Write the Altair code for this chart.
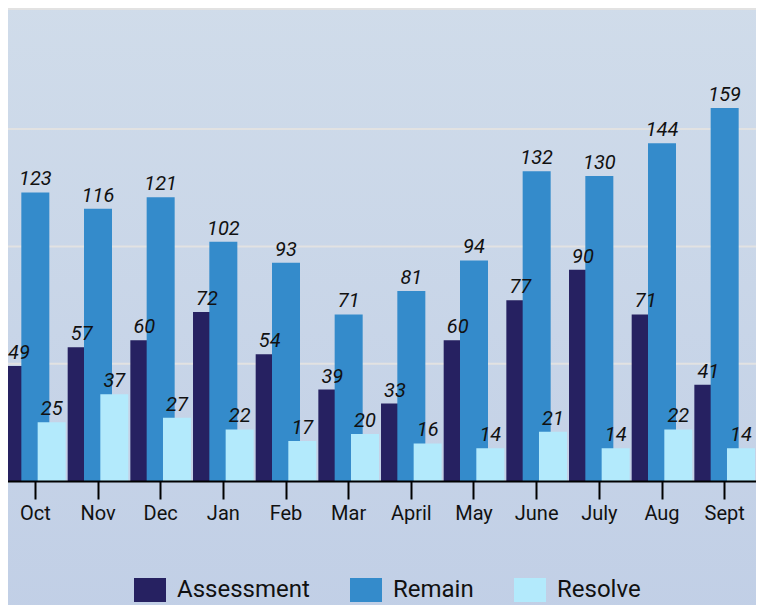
import altair as alt
import pandas as pd

months = ["Oct", "Nov", "Dec", "Jan", "Feb", "Mar", "April", "May", "June", "July", "Aug", "Sept"]
series = ["Assessment", "Remain", "Resolve"]
assessment = [49, 57, 60, 72, 54, 39, 33, 60, 77, 90, 71, 41]
remain = [123, 116, 121, 102, 93, 71, 81, 94, 132, 130, 144, 159]
resolve = [25, 37, 27, 22, 17, 20, 16, 14, 21, 14, 22, 14]
colors = ["#262161", "#348bcb", "#b3eafc"]
grid_values = [50, 100, 150, 201.2]

rows = []
for s, vals in zip(series, [assessment, remain, resolve]):
    for m, v in zip(months, vals):
        rows.append({"month": m, "series": s, "value": v})
df = pd.DataFrame(rows)

W, H = 752, 472
ymax = 201.2

bg = alt.Chart(alt.Data(values=[{"a": 1}])).mark_rect(
    fill=alt.Gradient(
        gradient="linear",
        stops=[alt.GradientStop(color="#d0dcea", offset=0),
               alt.GradientStop(color="#c1cfe6", offset=1)],
        x1=0, x2=0, y1=0, y2=1,
    )
).encode(
    x=alt.value(-10), x2=alt.value(W + 20),
    y=alt.value(-12), y2=alt.value(H + 140),
)

grid = alt.Chart(pd.DataFrame({"v": grid_values})).mark_rule(
    color="#e2e2e2", strokeWidth=2
).encode(
    y=alt.Y("v:Q", scale=alt.Scale(domain=[0, ymax], nice=False, zero=True), axis=None)
)

xenc = alt.X(
    "month:N", sort=months,
    scale=alt.Scale(paddingInner=0, paddingOuter=0),
    axis=alt.Axis(
        title=None, labelAngle=0, domainColor="#000", domainWidth=2,
        tickColor="#000", tickWidth=2, tickSize=18,
        labelFont="Roboto", labelFontSize=20, labelColor="#111",
        labelPadding=4, zindex=1,
    ),
)
xoff = alt.XOffset("series:N", sort=series, scale=alt.Scale(paddingInner=0, paddingOuter=0.42))
yenc = alt.Y("value:Q", scale=alt.Scale(domain=[0, ymax], nice=False), axis=None)

bars = alt.Chart(df).mark_bar(width=28).encode(
    x=xenc,
    xOffset=xoff,
    y=yenc,
    color=alt.Color(
        "series:N", sort=series,
        scale=alt.Scale(domain=series, range=colors),
        legend=alt.Legend(
            title=None, orient="none", legendX=130, legendY=565,
            direction="horizontal",
            symbolType="M-1,-0.75H1V0.75H-1Z", symbolSize=1024,
            symbolStrokeWidth=0, symbolOpacity=1,
            labelFont="Roboto", labelFontSize=24, labelColor="#111",
            labelOffset=11, columnPadding=40, padding=0,
        ),
    ),
)

labels = alt.Chart(df).mark_text(
    font="Roboto", fontSize=20, fontStyle="italic", color="#111",
    baseline="alphabetic", dy=-7,
).encode(
    x=alt.X("month:N", sort=months),
    xOffset=alt.XOffset("series:N", sort=series),
    y=alt.Y("value:Q"),
    text=alt.Text("value:Q"),
)

chart = alt.layer(bg, grid, bars, labels).properties(
    width=W, height=H,
    autosize=alt.AutoSizeParams(type="none"),
    padding={"left": -4, "top": 1, "right": 0, "bottom": 125},
    background="#c9d6e8",
).configure_view(stroke=None)

chart.save("out.html", embed_options={"renderer": "svg", "actions": False})
